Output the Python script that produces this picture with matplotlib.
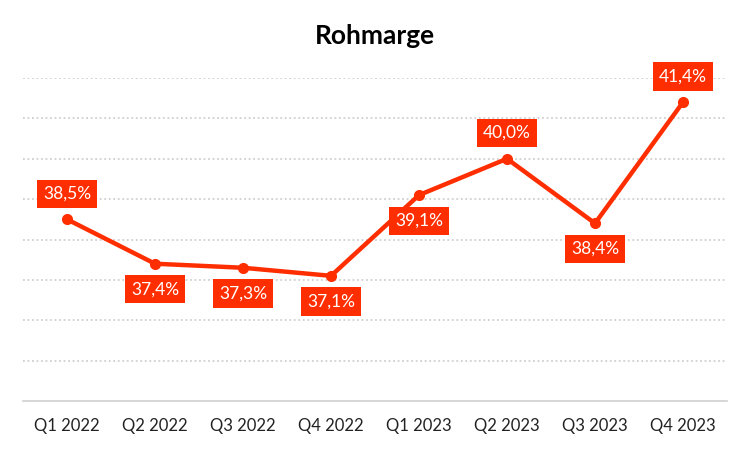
import matplotlib
matplotlib.use("Agg")
import matplotlib.pyplot as plt

categories = ["Q1 2022", "Q2 2022", "Q3 2022", "Q4 2022",
              "Q1 2023", "Q2 2023", "Q3 2023", "Q4 2023"]
values = [38.5, 37.4, 37.3, 37.1, 39.1, 40.0, 38.4, 41.4]
labels = ["38,5%", "37,4%", "37,3%", "37,1%", "39,1%", "40,0%", "38,4%", "41,4%"]
label_pos = ["above", "below", "below", "below", "below", "above", "below", "above"]
title = "Rohmarge"

RED = "#FF2E00"
plt.rcParams['font.family'] = ['Lato', 'DejaVu Sans']

fig = plt.figure(figsize=(7.5, 4.5), dpi=100)
ax = fig.add_axes([23/750, 49/450, 704/750, 323/450])

x = list(range(len(categories)))
ax.plot(x, values, color=RED, linewidth=3.2, marker="o", markersize=7,
        solid_capstyle="round", zorder=3)

for xi, v, lab, pos in zip(x, values, labels, label_pos):
    dy = 18.5 if pos == "above" else -18.5
    ax.annotate(lab, (xi, v), xytext=(0, dy), textcoords="offset points",
                ha="center", va="center", color="white", fontsize=12.5,
                bbox=dict(boxstyle="square,pad=0.35", fc=RED, ec="none"),
                zorder=4)

ax.set_xlim(-0.5, len(categories) - 0.5)
ax.set_ylim(34, 42)
ax.set_yticks(range(35, 43))
ax.yaxis.grid(True, color="#D0D0D0", linestyle=(0, (1, 1.5)), linewidth=1.3)
ax.set_axisbelow(True)
ax.tick_params(axis="y", left=False, labelleft=False)
ax.set_xticks(x)
ax.set_xticklabels(categories, fontsize=12, color="#222222")
ax.tick_params(axis="x", length=0, pad=12)
for s in ["top", "right", "left"]:
    ax.spines[s].set_visible(False)
ax.spines["bottom"].set_color("#D0D0D0")
ax.spines["bottom"].set_linewidth(1.2)

fig.text(0.5, 1 - 36/450, title, ha="center", va="center",
         fontsize=19, fontweight="bold", color="black")

fig.savefig("out.png", dpi=100)
